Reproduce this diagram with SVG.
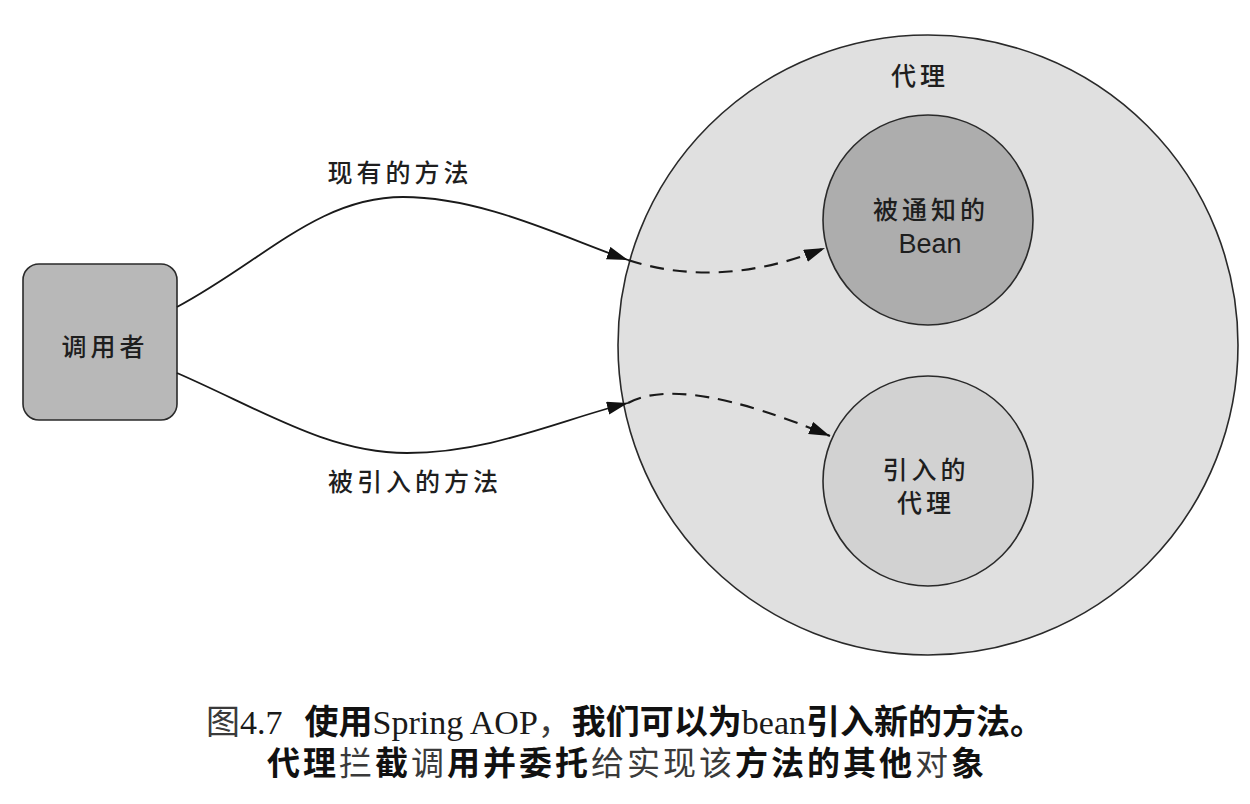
<svg xmlns="http://www.w3.org/2000/svg" width="1250" height="804" viewBox="0 0 1250 804">
  <style>
    .shape { stroke: #2a2a2a; stroke-width: 1.6; }
    .lbl { font-family: "Noto Sans CJK SC", "Liberation Sans", sans-serif; font-size: 25px; font-weight: 500; letter-spacing: 4px; fill: #1e1e1e; text-anchor: middle; }
    .latin { font-family: "Liberation Sans", "Noto Sans CJK SC", sans-serif; font-size: 27px; fill: #1e1e1e; text-anchor: middle; }
    .flow { fill: none; stroke: #1a1a1a; stroke-width: 1.8; }
    .dash { stroke-dasharray: 14 9; stroke-width: 2.2; }
    .cap { font-family: "Noto Sans CJK SC", sans-serif; fill: #111; text-anchor: middle; }
    .l1 { font-size: 34px; }
    .l2 { font-size: 33px; letter-spacing: 3px; }
    .cap .b { font-weight: bold; }
    .cap .t { font-weight: normal; fill: #3a3a3a; }
    .cap .r { font-family: "Liberation Serif", "Noto Sans CJK SC", serif; font-weight: normal; fill: #1a1a1a; }
  </style>
  <defs>
    <marker id="head" markerUnits="userSpaceOnUse" markerWidth="22" markerHeight="14" refX="21" refY="6.5" orient="auto">
      <path d="M0,0 L21,6.5 L0,13 z" fill="#111"/>
    </marker>
  </defs>

  <rect width="1250" height="804" fill="#ffffff"/>

  <!-- outer proxy -->
  <g id="proxy">
    <circle class="shape" cx="928" cy="345" r="310" fill="#e0e0e0"/>
    <text class="lbl" x="920" y="85">代理</text>
  </g>

  <!-- advised bean -->
  <g id="advised-bean">
    <circle class="shape" cx="928" cy="220" r="105" fill="#adadad"/>
    <text class="lbl" x="931" y="219">被通知的</text>
    <text class="latin" x="930" y="253">Bean</text>
  </g>

  <!-- introduction delegate -->
  <g id="intro-proxy">
    <circle class="shape" cx="928" cy="481" r="105" fill="#d2d2d2"/>
    <text class="lbl" x="926" y="479">引入的</text>
    <text class="lbl" x="926" y="512">代理</text>
  </g>

  <!-- caller -->
  <g id="caller">
    <rect class="shape" x="23" y="264" width="154" height="156" rx="16" fill="#b8b8b8"/>
    <text class="lbl" x="105" y="356">调用者</text>
  </g>

  <!-- calls -->
  <g id="connectors">
    <path class="flow" d="M177,307 C262,262 318,197 403,197 C482,197 560,236 628,260" marker-end="url(#head)"/>
    <path class="flow dash" d="M628,260 Q720,290 825,248" marker-end="url(#head)"/>
    <path class="flow" d="M177,373 C262,410 328,453 407,453 C490,453 560,420 628,403" marker-end="url(#head)"/>
    <path class="flow dash" d="M628,403 Q682,374 830,436" marker-end="url(#head)"/>
    <text class="lbl" x="400" y="182">现有的方法</text>
    <text class="lbl" x="415" y="491">被引入的方法</text>
  </g>

  <!-- caption -->
  <g id="caption">
    <text class="cap l1" x="625" y="734"><tspan class="t">图</tspan><tspan class="r">4.7</tspan><tspan class="b" dx="22">使用</tspan><tspan class="r">Spring AOP</tspan><tspan class="t">，</tspan><tspan class="b">我们可以为</tspan><tspan class="r">bean</tspan><tspan class="b">引入新的方法。</tspan></text>
    <text class="cap l2" x="627" y="775"><tspan class="b">代理</tspan><tspan class="t">拦</tspan><tspan class="b">截</tspan><tspan class="t">调</tspan><tspan class="b">用并委托</tspan><tspan class="t">给实现该</tspan><tspan class="b">方法的其他</tspan><tspan class="t">对</tspan><tspan class="b">象</tspan></text>
  </g>
</svg>
